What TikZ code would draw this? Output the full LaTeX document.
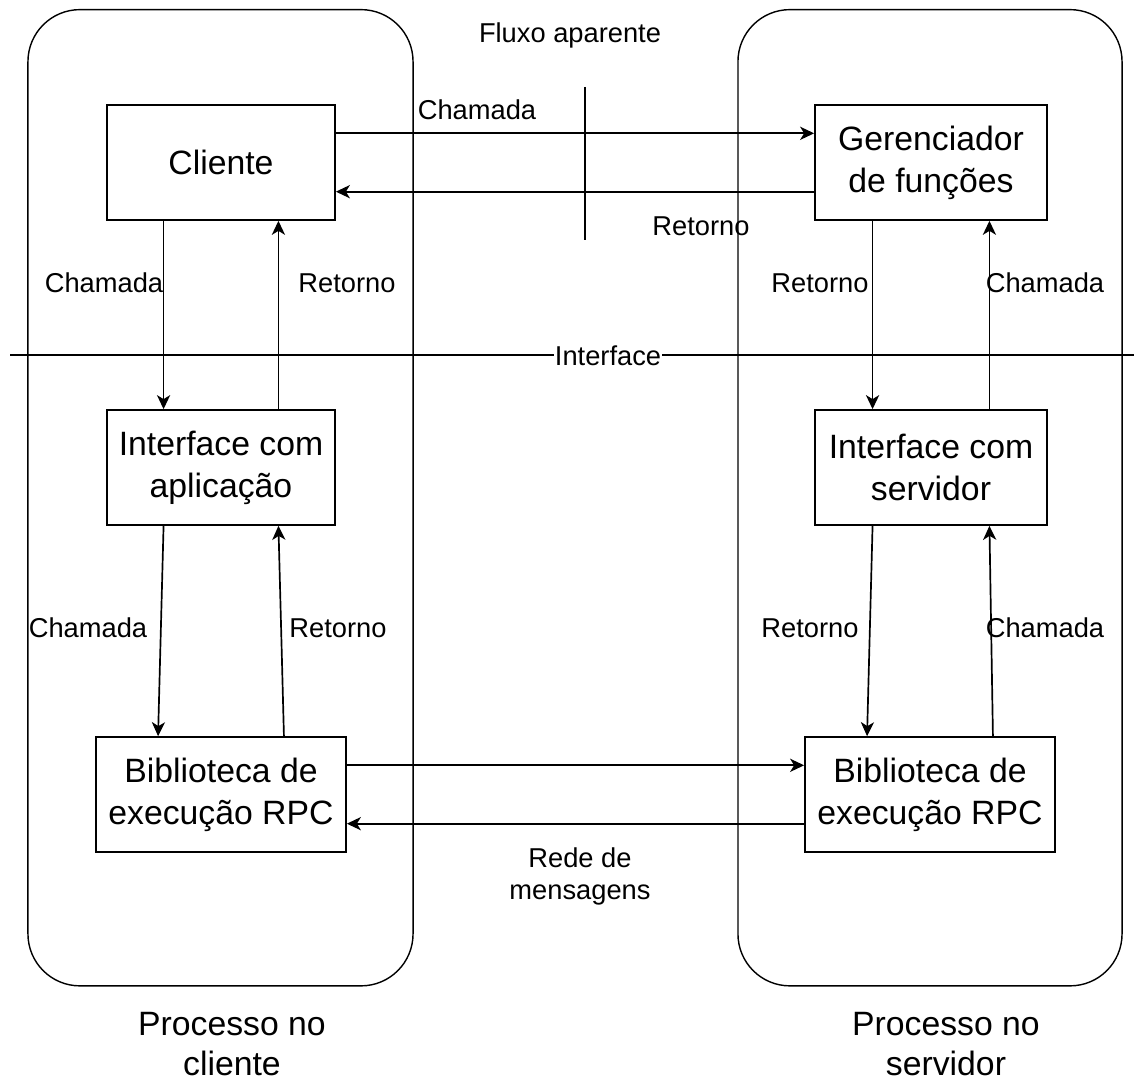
\documentclass[tikz,border=0pt]{standalone}
\usepackage{fontspec}
\setmainfont{Liberation Sans}
\usetikzlibrary{arrows.meta,calc}
\begin{document}
\begin{tikzpicture}[x=0.025cm, y=-0.025cm, line width=1.2pt,
    >={Stealth[length=0.35cm,width=0.33cm,inset=0.1cm]},
    proc node/.style={draw,line width=1pt,rounded corners=1.3cm,minimum width=9.625cm,minimum height=24.4cm},
    main node/.style={draw,align=center,minimum width=5.7cm,minimum height=2.875cm,font=\fontsize{24}{30}\selectfont},
    lbl/.style={align=center,inner sep=0pt,font=\fontsize{19.4}{22.8}\selectfont},
    big lbl/.style={align=center,inner sep=0pt,font=\fontsize{24}{29}\selectfont}]
    \useasboundingbox (0,0) rectangle (1134,1083);
    % processos
    \node[proc node] (procc) at (220.5,497.75) {};
    \node[proc node,minimum width=9.6cm] (procs) at (930,497.75) {};
    % caixas
    \node[main node] (cli) at (221,162.5) {Cliente};
    \node[main node,minimum width=5.8cm] (ger) at (931,162.5) {Gerenciador\\de funções};
    \node[main node] (iapp) at (221,467.5) {Interface com\\aplicação};
    \node[main node,minimum width=5.8cm] (iser) at (931,467.5) {Interface com\\servidor};
    \node[main node,minimum width=6.25cm] (bibc) at (221,794.5) {Biblioteca de\\execução RPC};
    \node[main node,minimum width=6.25cm] (bibs) at (930,794.5) {Biblioteca de\\execução RPC};
    % linhas
    \coordinate (ifl) at (10,355);
    \coordinate (ifr) at (1134,355);
    \draw[line width=1pt] (ifl) -- (ifr);
    \node[lbl,fill=white,inner sep=1pt] (iface) at (608,356) {Interface};
    \coordinate (flt) at (585,87);
    \coordinate (flb) at (585,240);
    \draw[line width=1pt] (flt) -- (flb);
    % setas
    \draw[->] ($(cli.north east)!0.25!(cli.south east)$) -- ($(ger.north west)!0.25!(ger.south west)$);
    \draw[->] ($(ger.north west)!0.75!(ger.south west)$) -- ($(cli.north east)!0.75!(cli.south east)$);
    \draw[->] ($(cli.south west)!0.25!(cli.south east)$) -- ($(iapp.north west)!0.25!(iapp.north east)$);
    \draw[->] ($(iapp.north west)!0.75!(iapp.north east)$) -- ($(cli.south west)!0.75!(cli.south east)$);
    \draw[->] ($(ger.south west)!0.25!(ger.south east)$) -- ($(iser.north west)!0.25!(iser.north east)$);
    \draw[->] ($(iser.north west)!0.75!(iser.north east)$) -- ($(ger.south west)!0.75!(ger.south east)$);
    \draw[->] ($(iapp.south west)!0.25!(iapp.south east)$) -- ($(bibc.north west)!0.25!(bibc.north east)$);
    \draw[->] ($(bibc.north west)!0.75!(bibc.north east)$) -- ($(iapp.south west)!0.75!(iapp.south east)$);
    \draw[->] ($(iser.south west)!0.25!(iser.south east)$) -- ($(bibs.north west)!0.25!(bibs.north east)$);
    \draw[->] ($(bibs.north west)!0.75!(bibs.north east)$) -- ($(iser.south west)!0.75!(iser.south east)$);
    \draw[->] ($(bibc.north east)!0.25!(bibc.south east)$) -- ($(bibs.north west)!0.25!(bibs.south west)$);
    \draw[->] ($(bibs.north west)!0.75!(bibs.south west)$) -- ($(bibc.north east)!0.75!(bibc.south east)$);
    % rotulos
    \node[lbl] (chm1) at (477,110) {Chamada};
    \node[lbl] (ret1) at (701,226) {Retorno};
    \node[lbl] (chm2) at (104,283) {Chamada};
    \node[lbl] (ret2) at (347,283) {Retorno};
    \node[lbl] (ret3) at (820,283) {Retorno};
    \node[lbl] (chm3) at (1045,283) {Chamada};
    \node[lbl] (chm4) at (88,628) {Chamada};
    \node[lbl] (ret4) at (338,628) {Retorno};
    \node[lbl] (ret5) at (810,628) {Retorno};
    \node[lbl] (chm5) at (1045,628) {Chamada};
    \node[lbl] (rede) at (580,876) {Rede de\\mensagens};
    \node[lbl] (fluxo) at (570,35) {Fluxo aparente};
    \node[big lbl] (pcli) at (232,1044) {Processo no\\cliente};
    \node[big lbl] (pser) at (946,1044) {Processo no\\servidor};
\end{tikzpicture}
\end{document}
